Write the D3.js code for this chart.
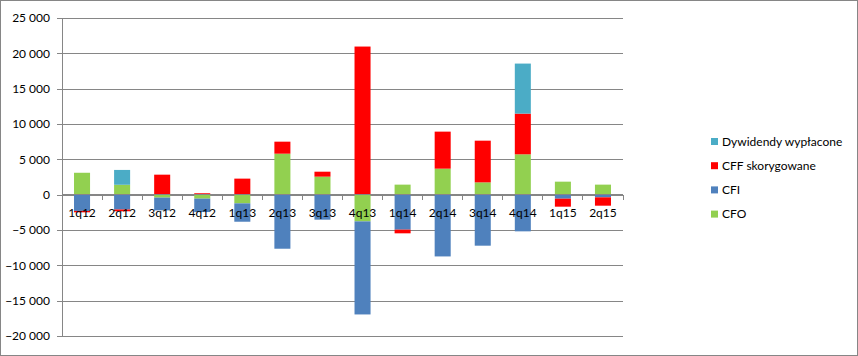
<!DOCTYPE html>
<html><head><meta charset="utf-8">
<script src="https://cdn.jsdelivr.net/npm/d3@7"></script>
<style>
html,body{margin:0;padding:0;background:#fff;}
svg{display:block;font-family:Lato,"Liberation Sans",sans-serif;}
</style></head>
<body><svg id="c" width="858" height="356"></svg>
<script>
const categories = ["1q12","2q12","3q12","4q12","1q13","2q13","3q13","4q13","1q14","2q14","3q14","4q14","1q15","2q15"];
const CFO = [3100, 1400, -420, -560, -1230, 5800, 2550, -3780, 1420, 3680, 1740, 5710, 1840, 1420];
const CFI = [-2300, -2100, -1800, -1900, -2600, -7650, -3540, -13170, -4950, -8740, -7220, -5190, -570, -380];
const CFF = [-200, -250, 2830, 200, 2270, 1700, 700, 20960, -520, 5240, 5900, 5760, -1130, -1180];
const Dyw = [0, 2100, 0, 0, 0, 0, 0, 0, 0, 0, 0, 7080, 0, 0];
const seriesNames = ["CFO", "CFI", "CFF skorygowane", "Dywidendy wypłacone"];
const seriesColors = ["#92D050", "#4F81BD", "#FF0000", "#4BACC6"];
const yTicks = [-20000, -15000, -10000, -5000, 0, 5000, 10000, 15000, 20000, 25000];

const svg = d3.select("#c");
const L = 62, R = 623, T = 18, B = 336;
const gridColor = "#868686";

svg.append("rect").attr("x",0.5).attr("y",0.5).attr("width",857).attr("height",355)
  .attr("fill","#fff").attr("stroke",gridColor).attr("stroke-width",1);

const y = d3.scaleLinear().domain([-20000, 25000]).range([B, T]);
const x = d3.scaleBand().domain(categories).range([L, R]).paddingInner(0.6).paddingOuter(0.3);

const fmt = v => { const s = d3.format(",")(v).replace(/,/g, "\u00a0"); return s.replace("-", "-"); };

// gridlines + y axis
const yAxis = d3.axisLeft(y).tickValues(yTicks).tickSize(-(R - L)).tickSizeOuter(0).tickPadding(12).tickFormat(fmt);
const gy = svg.append("g").attr("transform", `translate(${L},0)`).call(yAxis);
gy.select(".domain").remove();
gy.selectAll(".tick line").attr("stroke", gridColor).attr("shape-rendering","crispEdges").attr("x1", -5);
gy.selectAll(".tick text").attr("font-size", 12).attr("fill", "#000").attr("font-family","Lato, sans-serif");
svg.append("line").attr("x1", L).attr("x2", L).attr("y1", T).attr("y2", B)
  .attr("stroke", gridColor).attr("shape-rendering","crispEdges");

// data table
const rows = categories.map((c, i) => ({cat: c, CFO: CFO[i], CFI: CFI[i], "CFF skorygowane": CFF[i], "Dywidendy wypłacone": Dyw[i]}));
const stack = d3.stack().keys(seriesNames).offset(d3.stackOffsetDiverging);
const stacked = stack(rows);

svg.append("g").selectAll("g").data(stacked).join("g")
  .attr("fill", (d, i) => seriesColors[i])
  .selectAll("rect").data(d => d).join("rect")
  .attr("x", d => x(d.data.cat))
  .attr("width", x.bandwidth())
  .attr("y", d => y(Math.max(d[0], d[1])))
  .attr("height", d => Math.abs(y(d[0]) - y(d[1])));

// x axis at zero
const y0 = y(0);
svg.append("line").attr("x1", L).attr("x2", R).attr("y1", y0).attr("y2", y0)
  .attr("stroke", gridColor).attr("shape-rendering","crispEdges");
const step = x.step();
const bounds = d3.range(categories.length + 1).map(i => L + i * (R - L) / categories.length);
svg.append("g").selectAll("line").data(bounds).join("line")
  .attr("x1", d => d).attr("x2", d => d).attr("y1", y0).attr("y2", y0 + 5)
  .attr("stroke", gridColor).attr("shape-rendering","crispEdges");
svg.append("g").selectAll("text").data(categories).join("text")
  .attr("x", d => x(d) + x.bandwidth() / 2).attr("y", y0 + 22)
  .attr("text-anchor", "middle").attr("font-size", 12).attr("fill", "#000")
  .text(d => d);

// legend
const legendOrder = [3, 2, 1, 0];
const lg = svg.append("g");
legendOrder.forEach((si, k) => {
  const cy = 141.5 + k * 24.2;
  lg.append("rect").attr("x", 711).attr("y", cy - 3.5).attr("width", 7).attr("height", 7).attr("fill", seriesColors[si]);
  lg.append("text").attr("x", 722).attr("y", cy + 4).attr("font-size", 12).attr("fill", "#000").text(seriesNames[si]);
});
</script></body></html>
